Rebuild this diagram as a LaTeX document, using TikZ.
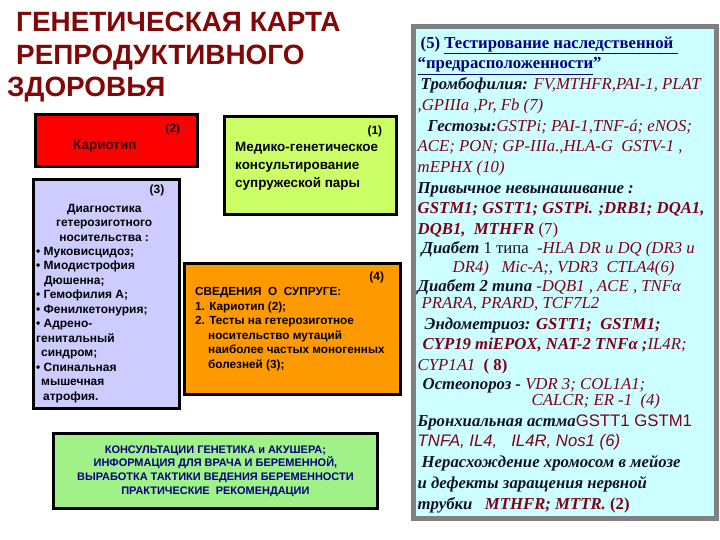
\documentclass[tikz,border=0pt]{standalone}
\usepackage{fontspec}
\setmainfont{Liberation Serif}
\newfontfamily\arial{Liberation Sans}
\usetikzlibrary{positioning}

\definecolor{titlered}{RGB}{128,8,8}
\definecolor{karired}{RGB}{255,0,0}
\definecolor{limefill}{RGB}{204,255,102}
\definecolor{lavfill}{RGB}{204,204,255}
\definecolor{orangefill}{RGB}{255,153,0}
\definecolor{mintfill}{RGB}{160,242,136}
\definecolor{cyanfill}{RGB}{204,255,255}
\definecolor{panelgray}{RGB}{128,128,128}
\definecolor{headnavy}{RGB}{0,0,128}
\definecolor{genered}{RGB}{128,0,24}
\definecolor{labelblack}{RGB}{16,16,40}

% right panel markup
\newcommand{\lbl}[1]{{\bfseries\itshape\color{labelblack}#1}}
\newcommand{\gn}[1]{{\itshape\color{genered}#1}}
\newcommand{\gnb}[1]{{\bfseries\itshape\color{genered}#1}}

\begin{document}
\begin{tikzpicture}[
  x=1bp, y=-1bp,
  box/.style={draw=black, line width=3bp, anchor=north west, inner sep=0pt},
  boxtext/.style={font=\arial\bfseries\fontsize{12}{14.5}\selectfont, inner sep=0pt, align=left},
  numtext/.style={boxtext, anchor=north east, font=\arial\bfseries\fontsize{12}{14}\selectfont}
]
\useasboundingbox[fill=white] (0,0) rectangle (720,540);

% Title (base = last line)
\node[anchor=base west, align=left, inner sep=0pt, text=titlered,
      font=\arial\bfseries\fontsize{28}{33}\selectfont] (title) at (7,97)
  {\hspace*{9bp}ГЕНЕТИЧЕСКАЯ КАРТА\\\hspace*{9bp}РЕПРОДУКТИВНОГО\\ЗДОРОВЬЯ};

% (2) karyotype
\node[box, fill=karired, minimum width=163, minimum height=52] (kariotip) at (34,113) {};
\node[numtext, text=labelblack] (num2) at ([xshift=-19bp, yshift=-11bp]kariotip.north east) {(2)};
\node[boxtext, anchor=base west, text={rgb,255:red,60;green,0;blue,0}, font=\arial\bfseries\fontsize{13.5}{14}\selectfont]
  (karlbl) at ([xshift=39bp, yshift=-37bp]kariotip.north west) {Кариотип};

% (1) counselling
\node[box, fill=limefill, minimum width=173, minimum height=98] (konsult) at (223,115) {};
\node[numtext] (num1) at ([xshift=-16bp, yshift=-11bp]konsult.north east) {(1)};
\node[boxtext, anchor=base west, font=\arial\bfseries\fontsize{13.5}{18.5}\selectfont]
  (konslbl) at ([xshift=12bp, yshift=-73bp]konsult.north west)
  {Медико-генетическое\\консультирование\\супружеской пары};

% (3) heterozygous carriers
\node[box, fill=lavfill, minimum width=147, minimum height=230] (diag) at (32,178) {};
\node[numtext] (num3) at ([xshift=-17bp, yshift=-7bp]diag.north east) {(3)};
\node[boxtext, anchor=base, align=center] (diaghead) at ([xshift=-2.5bp, yshift=-63bp]diag.north)
  {Диагностика\\гетерозиготного\\носительства :};
\node[boxtext, anchor=base west] (diaglist) at ([xshift=4bp, yshift=-222bp]diag.north west)
  {• Муковисцидоз;\\• Миодистрофия\\\hspace*{8bp}Дюшенна;\\• Гемофилия А;\\• Фенилкетонурия;\\• Адрено-\\генитальный\\\hspace*{5bp}синдром;\\• Спинальная\\\hspace*{5bp}мышечная\\\hspace*{7bp}атрофия.};

% (4) partner
\node[box, fill=orangefill, minimum width=217, minimum height=131] (svedenia) at (183,262) {};
\node[numtext] (num4) at ([xshift=-18bp, yshift=-10bp]svedenia.north east) {(4)};
\node[boxtext, anchor=base west, font=\arial\bfseries\fontsize{11.8}{14.5}\selectfont]
  (svedlbl) at ([xshift=12bp, yshift=-106bp]svedenia.north west)
  {СВЕДЕНИЯ\ \ О\ \ СУПРУГЕ:\\1. Кариотип (2);\\2. Тесты на гетерозиготное\\\hspace*{13bp}носительство мутаций\\\hspace*{13bp}наиболее частых моногенных\\\hspace*{13bp}болезней (3);};

% recommendations
\node[box, fill=mintfill, minimum width=325, minimum height=75] (rekom) at (52,432) {};
\node[boxtext, align=center, text=headnavy, font=\arial\bfseries\fontsize{11}{13.7}\selectfont]
  (rekomlbl) at (rekom.center)
  {КОНСУЛЬТАЦИИ ГЕНЕТИКА и АКУШЕРА;\\ИНФОРМАЦИЯ ДЛЯ ВРАЧА И БЕРЕМЕННОЙ,\\ВЫРАБОТКА ТАКТИКИ ВЕДЕНИЯ БЕРЕМЕННОСТИ\\ПРАКТИЧЕСКИЕ\ \ РЕКОМЕНДАЦИИ};

% (5) predisposition panel
\node[draw=panelgray, line width=5bp, fill=cyanfill, anchor=north west, inner sep=0pt,
      minimum width=305, minimum height=493] (genpanel) at (410.5,24.5) {};
\node[anchor=base west, align=left, inner sep=0pt, text=genered,
      font=\fontsize{16.8}{20.8}\selectfont] (genlist) at ([xshift=7bp, yshift=-484.5bp]genpanel.north west)
  {\hspace*{3bp}{\bfseries\color{headnavy}(5) \underline{Тестирование наследственной\ }}\\
   {\bfseries\color{headnavy}\underline{“предрасположенности}”}\\
   \hspace*{3bp}\lbl{Тромбофилия:} \gn{FV,MTHFR,PAI-1, PLAT}\\
   \gn{,GPIIIa ,Pr, Fb (7)}\\
   \hspace*{10bp}\lbl{Гестозы:}\gn{GSTPi; PAI-1,TNF-á; eNOS;}\\
   \gn{ACE; PON; GP-IIIa.,HLA-G\ \ GSTV-1 ,}\\
   \gn{mEPHX (10)}\\
   \lbl{Привычное невынашивание :}\\
   \gnb{GSTM1;\ GSTT1; GSTPi. ;DRB1; DQA1,}\\
   \gnb{DQB1,\ \ MTHFR} (7)\\[-1.8bp]
   \hspace*{4bp}\lbl{Диабет} {\color{labelblack}1 типа}\ \ \gn{-HLA DR и DQ (DR3 и}\\[-1.8bp]
   \hspace*{35bp}\gn{DR4)\ \ \ Mic-A;, VDR3\ \ CTLA4(6)}\\[-1.8bp]
   \lbl{Диабет 2 типа} \gn{-DQB1 , ACE , TNFα}\\[-3.8bp]
   \hspace*{4bp}\gn{PRARA, PRARD, TCF7L2}\\
   \hspace*{7bp}\lbl{Эндометриоз:} \gnb{GSTT1;\ \ GSTM1;}\\
   \hspace*{5bp}\gnb{CYP19 miEPOX, NAT-2 TNFα ;}\gn{IL4R;}\\
   \gn{CYP1A1}\ \ {\bfseries( 8)}\\[-1.8bp]
   \hspace*{5bp}\lbl{Остеопороз -} \gn{VDR 3; COL1A1;}\\[-4.8bp]
   \hspace*{114bp}\gn{CALCR; ER -1\ \ (4)}\\
   \lbl{Бронхиальная астма}{\arial GSTT1 GSTM1}\\
   {\arial\itshape TNFA, IL4,\ \ \ IL4R, Nos1 (6)}\\
   \hspace*{4bp}\lbl{Нерасхождение хромосом в мейозе}\\
   \lbl{и дефекты заращения нервной}\\
   \lbl{трубки}\ \ \ \gnb{MTHFR; MTTR.} {\bfseries(2)}};

\end{tikzpicture}
\end{document}
